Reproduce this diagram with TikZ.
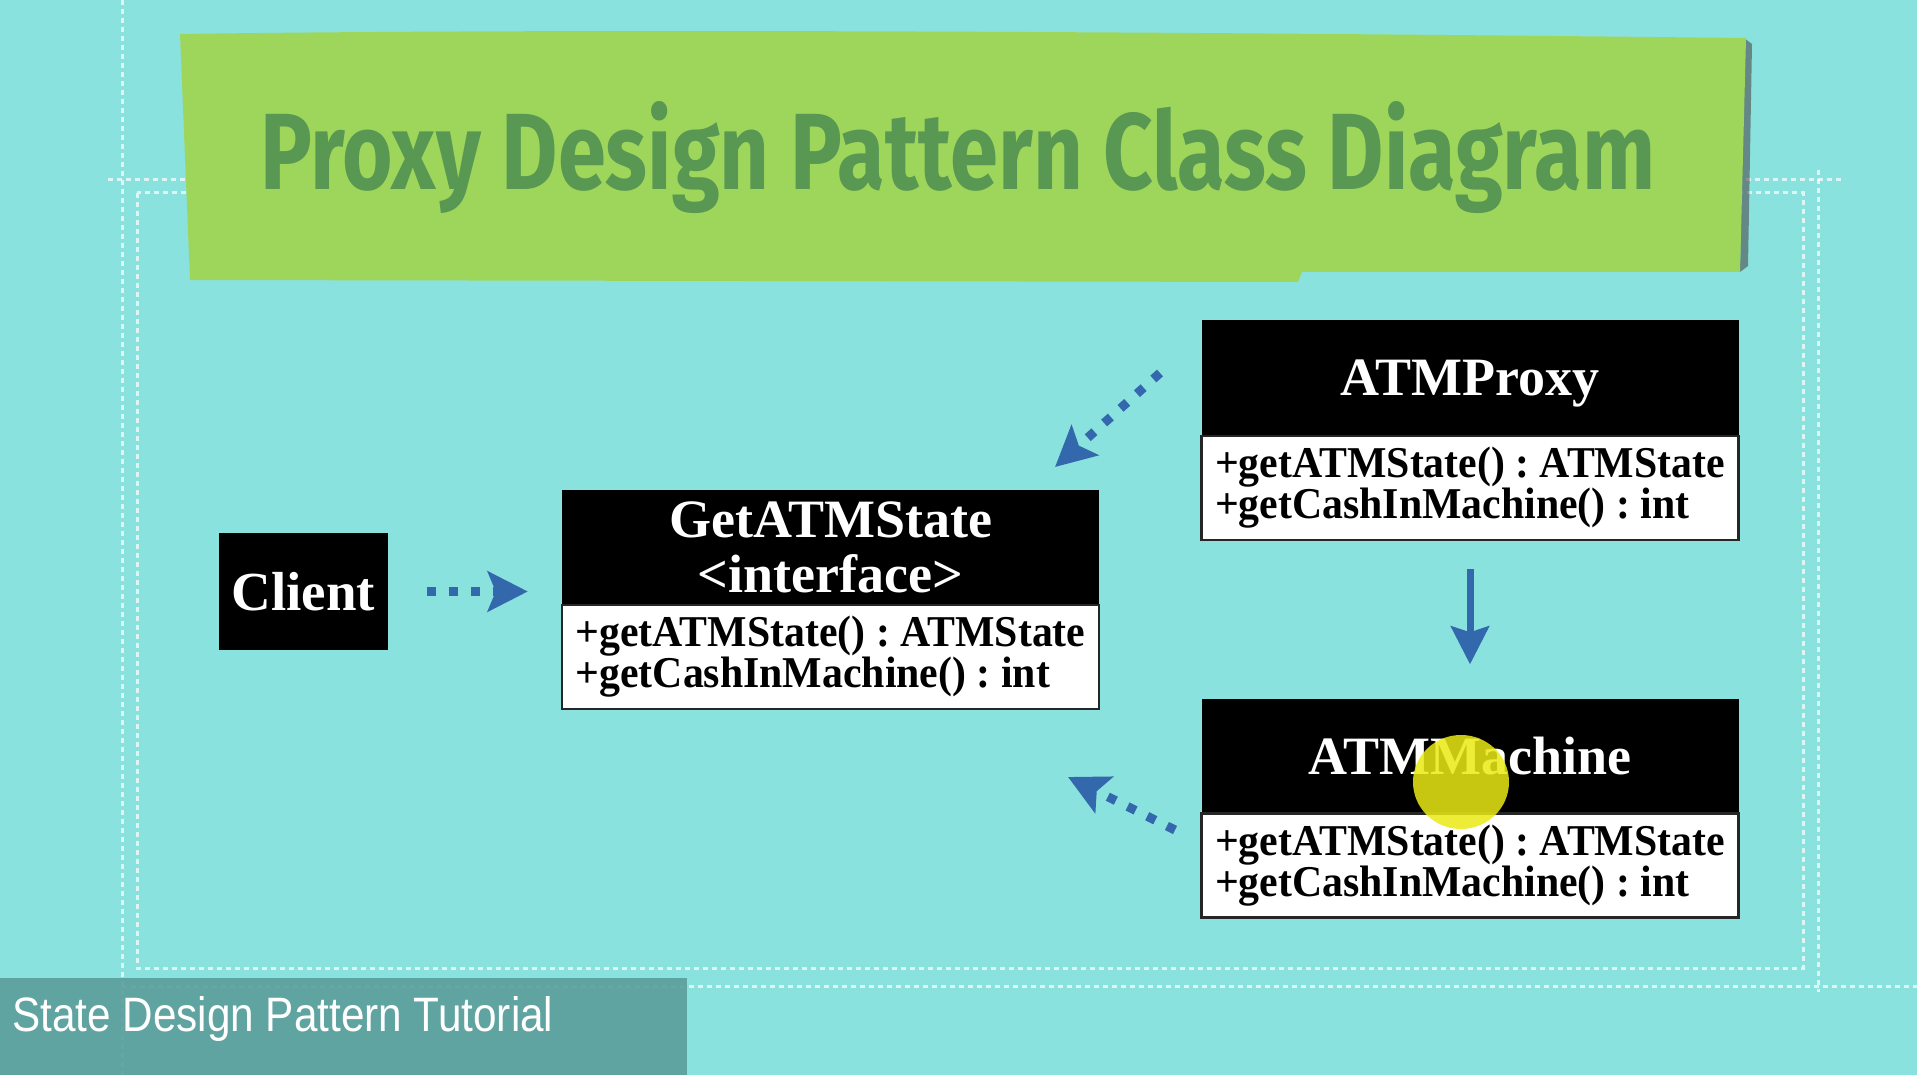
\documentclass[tikz,border=0pt]{standalone}
\usepackage{fontspec}
\setmainfont{Liberation Serif}
\newfontfamily\bodyfont{Liberation Serif}[FakeStretch=0.95]
\newfontfamily\titlefont{Fira Sans}
\newfontfamily\capfont{Liberation Sans}
\usetikzlibrary{arrows.meta}
\definecolor{bg}{RGB}{138,226,222}
\definecolor{banner}{RGB}{158,214,92}
\definecolor{titlegreen}{RGB}{88,152,82}
\definecolor{arrowblue}{RGB}{52,104,172}
\definecolor{capbar}{RGB}{92,158,156}
\definecolor{hilite}{RGB}{235,235,20}
\tikzset{
  frameline/.style={draw=white, opacity=0.7, line width=3pt, dash pattern=on 5pt off 4pt},
  hdr/.style={fill=black, text=white, minimum width=537pt, minimum height=115pt, inner sep=0pt,
    align=center, font=\bfseries\fontsize{54}{55}\selectfont},
  bodybox/.style={fill=white, draw=black!85, line width=2.5pt, minimum width=537pt, minimum height=104pt,
    inner sep=0pt, align=left, font=\bodyfont\bfseries\frenchspacing\fontsize{44}{41}\selectfont},
  clientbox/.style={fill=black, text=white, minimum width=169pt, minimum height=117pt, inner sep=0pt,
    font=\bfseries\fontsize{55}{56}\selectfont},
  dotarrow/.style={draw=arrowblue, line width=9pt, dash pattern=on 9pt off 13pt,
    -{Stealth[length=40pt,width=40pt,inset=8pt]}},
  solidarrow/.style={draw=arrowblue, line width=7pt, -{Stealth[length=38pt,width=38pt,inset=6pt]}}
}
\begin{document}
\begin{tikzpicture}[x=1pt,y=-1pt]
\useasboundingbox (0,0) rectangle (1917,1075);
\fill[bg] (0,0) rectangle (1917,1075);
% dashed frames
\draw[frameline] (122,0) -- (122,1075);
\draw[frameline] (108,180) -- (1845,180);
\draw[frameline] (1818,170) -- (1818,992);
\draw[frameline] (122,986) -- (1917,986);
\draw[frameline] (137,193) rectangle (1803,968);
% banner
\fill[black!70, opacity=0.6] (1744,38) -- (1752,44) -- (1748,266) -- (1740,272) -- cycle;
\fill[banner] (180,34) .. controls (600,28) and (1200,32) .. (1746,38) -- (1740,272) -- (1302,272) -- (1298,282) -- (190,280) -- cycle;
\node[anchor=base west, inner sep=0pt, text=titlegreen] (title) at (260,190)
  {\resizebox{1394pt}{88pt}{\titlefont\bfseries Proxy Design Pattern Class Diagram}};
% client
\node[clientbox] (client) at (303.5,591.5) {Client};
% interface
\node[hdr] (iface) at (830.5,547.5) {GetATMState\\<interface>};
\node[bodybox] (ifaceb) at (830.5,657) {+getATMState() : ATMState\\+getCashInMachine() : int};
% proxy
\node[hdr, text depth=0pt] (proxy) at (1470,378) {ATMProxy};
\node[bodybox] (proxyb) at (1470,488) {+getATMState() : ATMState\\+getCashInMachine() : int};
% machine
\node[hdr] (machine) at (1470,756) {ATMMachine};
\node[bodybox] (machineb) at (1470,865.5) {+getATMState() : ATMState\\+getCashInMachine() : int};
% highlight
\fill[hilite, opacity=0.85] (1461,782) ellipse [x radius=48pt, y radius=47pt];
% arrows
\draw[dotarrow, shorten <=39pt, shorten >=34pt] (client.east) -- (client.east -| iface.west);
\coordinate (pxs) at (1160,373);
\coordinate (pxe) at (1055,467);
\draw[dotarrow] (pxs) -- (pxe);
\coordinate (mas) at (1175,830);
\coordinate (mae) at (1068,777);
\draw[dotarrow] (mas) -- (mae);
\draw[solidarrow, shorten <=28pt, shorten >=34pt] (proxyb.south) -- (machine.north);
% caption bar
\fill[capbar, opacity=0.9] (0,978) rectangle (687,1075);
\node[anchor=base west, inner sep=0pt, text=white] (caption) at (12,1031)
  {\resizebox{541pt}{35pt}{\capfont State Design Pattern Tutorial}};
\end{tikzpicture}
\end{document}
